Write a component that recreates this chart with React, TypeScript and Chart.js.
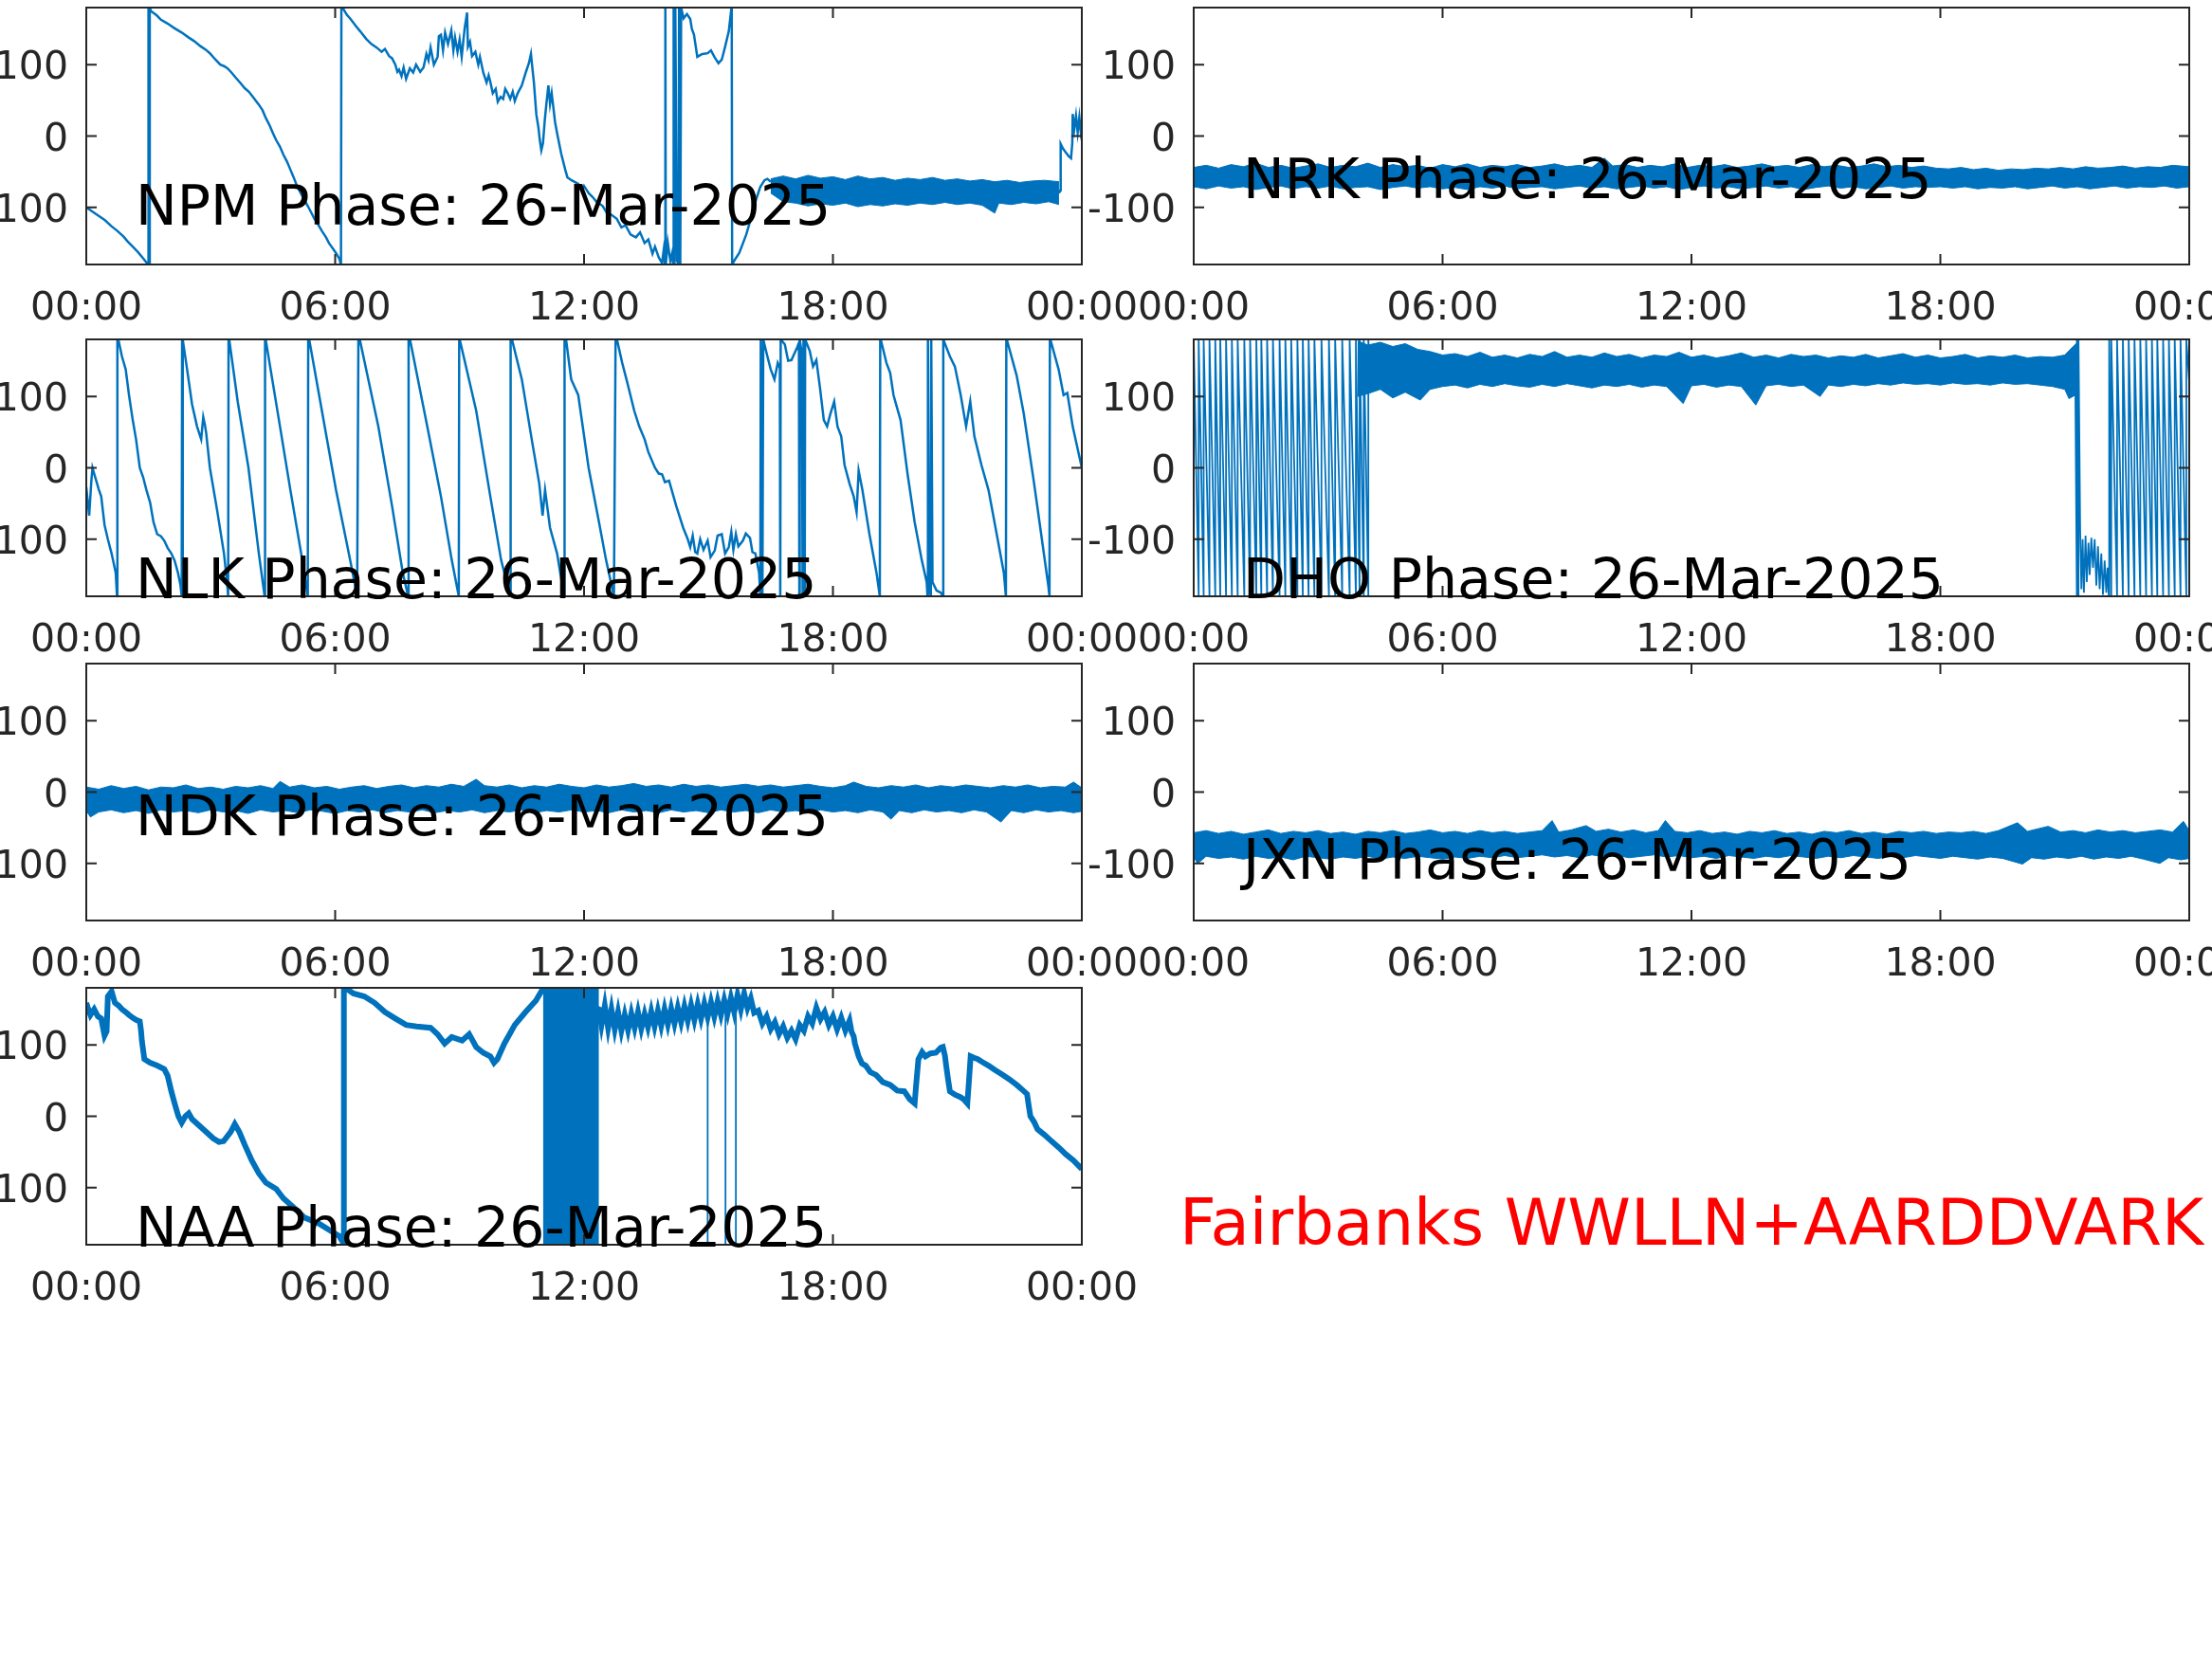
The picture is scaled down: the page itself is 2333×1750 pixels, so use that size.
import React, { useEffect, useRef } from "react";
import { Chart, registerables } from "chart.js";

Chart.register(...registerables);

type Pt = [number, number | null];

// ---------- axes / text ----------
const HOUR_TICKS = [0, 6, 12, 18, 24];
const PHASE_TICKS = [-100, 0, 100];
const HOUR_MIN = 0;
const HOUR_MAX = 24;
const PHASE_MIN = -180;
const PHASE_MAX = 180;
const DATE_TEXT = "26-Mar-2025";
const FOOTER_TEXT = "Fairbanks WWLLN+AARDDVARK";
const STATIONS = ["NPM", "NRK", "NLK", "DHO", "NDK", "JXN", "NAA"];
const LABEL_PHASE = [-124, -87, -183, -183, -61, -122, -182];
const LABEL_HOUR = 1.19;

// ---------- NPM ----------
const NPM_TRACE_A: Pt[] = [[0,-100],[0.15,-106],[0.3,-112],[0.45,-118],[0.6,-126],[0.75,-133],[0.9,-141],[1.0,-148],[1.12,-155],[1.25,-163],[1.38,-172],[1.49,-180],[1.5,180],[1.51,-180],[1.53,180],[1.56,175],[1.7,169],[1.8,163],[1.95,158],[2.13,151],[2.3,145],[2.47,138],[2.6,133],[2.75,126],[2.88,121],[2.98,116],[3.1,108],[3.23,100],[3.32,98],[3.4,95],[3.5,89],[3.6,82],[3.72,74],[3.82,67],[3.92,62],[4.0,56],[4.16,44],[4.25,36],[4.33,25],[4.42,15],[4.5,4],[4.58,-6],[4.67,-15],[4.75,-26],[4.84,-36],[4.92,-47],[5.0,-58],[5.08,-70],[5.17,-80],[5.25,-89],[5.34,-98],[5.42,-107],[5.5,-116],[5.6,-125],[5.68,-133],[5.78,-142],[5.85,-150],[5.95,-158],[6.02,-164],[6.1,-172],[6.14,-180],[6.15,180],[6.2,178],[6.28,170],[6.37,164],[6.5,154],[6.6,147],[6.75,136],[6.87,129],[7.0,124],[7.12,118],[7.2,122],[7.3,112],[7.37,109],[7.45,100],[7.5,90],[7.54,93],[7.6,84],[7.65,96],[7.71,80],[7.8,95],[7.88,89],[7.95,100],[8.05,90],[8.13,96],[8.2,115],[8.25,106],[8.3,124],[8.38,100],[8.47,111],[8.5,140],[8.55,142],[8.6,120],[8.65,145],[8.72,129],[8.8,148],[8.85,120],[8.89,138],[8.95,118],[9.0,135],[9.05,111],[9.12,150],[9.18,173],[9.2,125],[9.25,132],[9.3,112],[9.38,118],[9.45,100],[9.49,111],[9.57,89],[9.65,75],[9.7,85],[9.74,76],[9.8,60],[9.87,66],[9.92,48],[9.99,55],[10.05,52],[10.1,66],[10.16,60],[10.22,52],[10.28,62],[10.33,49],[10.4,60],[10.5,71],[10.6,90],[10.67,102],[10.72,115],[10.76,92],[10.79,76],[10.85,30],[10.9,12],[10.93,-4],[10.97,-20],[11.01,-10],[11.05,20],[11.09,44],[11.14,71],[11.18,45],[11.22,60],[11.26,40],[11.3,20],[11.35,4],[11.45,-25],[11.55,-48],[11.6,-58],[11.7,-62],[11.86,-67],[11.95,-78],[12.0,-70],[12.11,-80],[12.2,-85],[12.3,-92],[12.45,-98],[12.55,-108],[12.65,-110],[12.79,-116],[12.9,-128],[13.0,-125],[13.12,-138],[13.25,-142],[13.35,-135],[13.46,-150],[13.55,-145],[13.65,-165],[13.71,-155],[13.8,-170],[13.88,-178],[13.92,-160],[13.95,-180],[13.96,180],[13.97,-180],[14.02,-150],[14.08,-175],[14.12,-165],[14.15,-180],[14.16,180],[14.18,-180],[14.2,180],[14.24,-175],[14.28,-180],[14.29,180],[14.32,-180],[14.34,180],[14.4,165],[14.48,171],[14.56,164],[14.6,150],[14.65,142],[14.73,111],[14.85,115],[14.98,116],[15.06,120],[15.15,110],[15.24,102],[15.32,107],[15.4,125],[15.49,147],[15.55,178],[15.56,180],[15.57,-180],[15.65,-172],[15.74,-164],[15.82,-152],[15.91,-138],[16.0,-120],[16.08,-102],[16.17,-85],[16.25,-71],[16.35,-62],[16.42,-60],[16.5,-64]];
const NPM_TRACE_B: Pt[] = [[23.45,-80],[23.48,-76],[23.49,-11],[23.55,-18],[23.6,-22],[23.68,-28],[23.74,-31],[23.77,-10],[23.78,31],[23.82,10],[23.86,28],[23.9,5],[23.94,26],[23.97,8],[24,22]];
const NPM_BAND_UP: Pt[] = [[16.5,-60],[16.8,-56],[17.1,-60],[17.4,-55],[17.7,-59],[18.0,-57],[18.3,-61],[18.6,-56],[18.9,-60],[19.2,-58],[19.5,-62],[19.8,-59],[20.1,-61],[20.4,-58],[20.7,-62],[21.0,-60],[21.3,-63],[21.6,-61],[21.9,-64],[22.2,-62],[22.5,-65],[22.8,-63],[23.1,-62],[23.45,-64]];
const NPM_BAND_LO: Pt[] = [[16.5,-80],[16.8,-92],[17.1,-94],[17.4,-98],[17.7,-95],[18.0,-97],[18.3,-94],[18.6,-99],[18.9,-96],[19.2,-98],[19.5,-95],[19.8,-97],[20.1,-94],[20.4,-96],[20.7,-93],[21.0,-96],[21.3,-94],[21.6,-97],[21.9,-108],[22.0,-94],[22.3,-96],[22.6,-93],[22.9,-95],[23.2,-92],[23.45,-96]];

// ---------- NRK ----------
const NRK_BAND_UP: Pt[] = [[0,-44],[0.3,-41],[0.6,-45],[0.9,-40],[1.2,-43],[1.5,-38],[1.8,-44],[2.1,-41],[2.4,-45],[2.7,-42],[3.0,-39],[3.3,-44],[3.6,-41],[3.9,-43],[4.2,-38],[4.5,-44],[4.8,-40],[5.1,-43],[5.4,-41],[5.7,-45],[6.0,-40],[6.3,-43],[6.6,-39],[6.9,-44],[7.2,-41],[7.5,-43],[7.8,-40],[8.1,-44],[8.4,-42],[8.7,-39],[9.0,-43],[9.3,-41],[9.6,-44],[9.9,-31],[10.1,-42],[10.4,-40],[10.7,-44],[11.0,-41],[11.3,-43],[11.6,-39],[11.9,-44],[12.2,-41],[12.5,-43],[12.8,-40],[13.1,-44],[13.4,-42],[13.7,-39],[14.0,-43],[14.3,-41],[14.6,-44],[14.9,-40],[15.2,-43],[15.5,-41],[15.8,-44],[16.1,-42],[16.4,-39],[16.7,-43],[17.0,-41],[17.3,-44],[17.6,-42],[17.9,-45],[18.2,-46],[18.5,-44],[18.8,-47],[19.1,-45],[19.4,-48],[19.7,-46],[20.0,-47],[20.3,-45],[20.6,-46],[20.9,-44],[21.2,-46],[21.5,-43],[21.8,-45],[22.1,-44],[22.4,-42],[22.7,-45],[23.0,-43],[23.3,-44],[23.6,-41],[24,-43]];
const NRK_BAND_LO: Pt[] = [[0,-71],[0.3,-74],[0.6,-70],[0.9,-73],[1.2,-71],[1.5,-75],[1.8,-72],[2.1,-70],[2.4,-74],[2.7,-71],[3.0,-73],[3.3,-70],[3.6,-74],[3.9,-72],[4.2,-71],[4.5,-75],[4.8,-72],[5.1,-70],[5.4,-73],[5.7,-71],[6.0,-74],[6.3,-72],[6.6,-75],[6.9,-71],[7.2,-73],[7.5,-70],[7.8,-74],[8.1,-72],[8.4,-71],[8.7,-74],[9.0,-72],[9.3,-70],[9.6,-73],[9.9,-71],[10.2,-74],[10.5,-72],[10.8,-70],[11.1,-73],[11.4,-71],[11.7,-75],[12.0,-72],[12.3,-70],[12.6,-73],[12.9,-71],[13.2,-74],[13.5,-72],[13.8,-70],[14.1,-73],[14.4,-71],[14.7,-75],[15.0,-72],[15.3,-70],[15.6,-73],[15.9,-71],[16.2,-74],[16.5,-72],[16.8,-70],[17.1,-73],[17.4,-71],[17.7,-72],[18.0,-71],[18.3,-73],[18.6,-71],[18.9,-74],[19.2,-72],[19.5,-73],[19.8,-71],[20.1,-74],[20.4,-72],[20.7,-70],[21.0,-73],[21.3,-71],[21.6,-74],[21.9,-72],[22.2,-70],[22.5,-73],[22.8,-71],[23.1,-72],[23.4,-70],[23.7,-73],[24,-71]];

// ---------- NLK ----------
const NLK_TRACE: Pt[] = [[0,-27],[0.07,-67],[0.12,-20],[0.15,0],[0.2,-10],[0.24,-18],[0.3,-30],[0.36,-40],[0.44,-80],[0.52,-100],[0.61,-120],[0.71,-147],[0.74,-180],[0.75,180],[0.78,178],[0.86,156],[0.95,138],[1.03,102],[1.12,67],[1.2,40],[1.29,0],[1.37,-13],[1.45,-31],[1.54,-49],[1.62,-76],[1.71,-93],[1.8,-96],[1.88,-102],[1.96,-112],[2.05,-120],[2.13,-130],[2.21,-147],[2.27,-164],[2.3,-180],[2.31,180],[2.32,-180],[2.33,180],[2.43,138],[2.55,89],[2.67,58],[2.77,40],[2.82,71],[2.86,60],[2.89,49],[2.98,0],[3.15,-58],[3.32,-120],[3.4,-164],[3.42,-180],[3.43,180],[3.45,178],[3.65,93],[3.91,0],[4.16,-120],[4.3,-180],[4.31,180],[4.33,178],[4.67,58],[4.92,-31],[5.18,-120],[5.34,-180],[5.35,180],[5.38,178],[5.68,80],[6.02,-31],[6.36,-129],[6.53,-180],[6.56,180],[6.6,178],[7.04,58],[7.37,-53],[7.63,-147],[7.76,-180],[7.77,180],[7.81,178],[8.22,58],[8.55,-40],[8.81,-129],[8.98,-180],[8.99,180],[9.01,178],[9.4,80],[9.74,-40],[10.0,-129],[10.22,-180],[10.23,180],[10.27,178],[10.5,124],[10.75,36],[10.92,-22],[11.0,-67],[11.06,-31],[11.18,-84],[11.35,-120],[11.52,-180],[11.53,180],[11.57,178],[11.69,124],[11.86,102],[12.11,0],[12.36,-76],[12.53,-129],[12.72,-180],[12.76,180],[12.8,178],[12.92,147],[13.04,120],[13.21,80],[13.33,58],[13.46,40],[13.55,22],[13.71,0],[13.8,-8],[13.88,-9],[13.95,-20],[14.05,-18],[14.22,-53],[14.39,-84],[14.5,-100],[14.56,-111],[14.62,-95],[14.68,-118],[14.73,-120],[14.8,-100],[14.88,-115],[14.98,-102],[15.05,-125],[15.15,-116],[15.22,-95],[15.32,-93],[15.4,-120],[15.49,-111],[15.55,-90],[15.6,-115],[15.66,-93],[15.72,-110],[15.83,-102],[15.9,-92],[16.0,-98],[16.06,-118],[16.13,-120],[16.22,-147],[16.25,-180],[16.26,180],[16.3,-180],[16.32,180],[16.42,156],[16.5,138],[16.59,124],[16.67,147],[16.72,140],[16.73,-180],[16.74,180],[16.84,173],[16.92,150],[17.0,151],[17.07,160],[17.14,169],[17.18,175],[17.19,-180],[17.2,180],[17.25,160],[17.27,-180],[17.29,180],[17.32,-180],[17.33,180],[17.44,164],[17.52,142],[17.6,151],[17.69,111],[17.78,67],[17.86,58],[17.94,76],[18.03,93],[18.11,58],[18.2,44],[18.28,4],[18.4,-22],[18.5,-40],[18.57,-62],[18.62,-4],[18.71,-31],[18.88,-93],[19.05,-147],[19.13,-180],[19.14,180],[19.16,178],[19.29,147],[19.38,133],[19.46,102],[19.63,67],[19.8,-9],[19.97,-76],[20.14,-129],[20.26,-160],[20.28,-180],[20.29,180],[20.32,-165],[20.36,-180],[20.37,180],[20.4,-160],[20.5,-172],[20.6,-175],[20.65,-180],[20.66,180],[20.82,156],[20.94,142],[21.08,102],[21.21,58],[21.31,93],[21.41,44],[21.58,4],[21.75,-31],[21.92,-84],[22.12,-147],[22.17,-180],[22.18,180],[22.2,178],[22.43,129],[22.6,76],[22.85,-22],[23.02,-93],[23.19,-164],[23.22,-180],[23.23,180],[23.25,178],[23.44,138],[23.56,102],[23.65,105],[23.78,58],[24,0]];

// ---------- DHO ----------
const DHO_WRAPS_EARLY = [0.0,0.12,0.24,0.38,0.52,0.64,0.78,0.92,1.06,1.22,1.36,1.51,1.63,1.77,1.91,2.07,2.21,2.35,2.5,2.63,2.77,2.91,3.08,3.26,3.41,3.58,3.76,3.91,4.0,4.1,4.21];
const DHO_WRAPS_MID = [21.29, 21.33];
const DHO_WRAPS_LATE = [22.07,22.12,22.26,22.4,22.54,22.68,22.82,22.96,23.1,23.23,23.37,23.51,23.65,23.79,23.93];
const DHO_BOTTOM: Pt[] = [[21.37,-85],[21.4,-170],[21.43,-100],[21.46,-175],[21.5,-95],[21.53,-160],[21.57,-105],[21.6,-150],[21.64,-98],[21.68,-140],[21.72,-100],[21.76,-165],[21.8,-110],[21.84,-170],[21.88,-120],[21.92,-178],[21.96,-130],[22.0,-175],[22.03,-140],[22.06,-180]];
const DHO_BAND_UP: Pt[] = [[3.95,178],[4.2,172],[4.5,176],[4.8,170],[5.1,174],[5.4,166],[5.7,163],[6.0,158],[6.3,160],[6.6,156],[6.9,162],[7.2,155],[7.5,158],[7.8,154],[8.1,159],[8.4,156],[8.7,163],[9.0,155],[9.3,158],[9.6,155],[9.9,161],[10.2,156],[10.5,159],[10.8,154],[11.1,158],[11.4,156],[11.7,162],[12.0,155],[12.3,158],[12.6,154],[12.9,157],[13.2,161],[13.5,155],[13.8,158],[14.1,154],[14.4,159],[14.7,156],[15.0,158],[15.3,154],[15.6,157],[15.9,155],[16.2,159],[16.5,154],[16.8,157],[17.1,160],[17.4,155],[17.7,158],[18.0,154],[18.3,156],[18.6,159],[18.9,154],[19.2,157],[19.5,155],[19.8,158],[20.1,154],[20.4,156],[20.7,155],[21.0,158],[21.2,170],[21.35,178]];
const DHO_BAND_LO: Pt[] = [[3.95,100],[4.2,104],[4.5,110],[4.8,98],[5.1,106],[5.46,95],[5.7,110],[6.0,114],[6.3,116],[6.6,112],[6.9,117],[7.2,114],[7.5,118],[7.8,115],[8.1,113],[8.4,117],[8.7,114],[9.0,118],[9.3,115],[9.6,112],[9.9,116],[10.2,114],[10.5,117],[10.8,113],[11.1,116],[11.4,114],[11.8,90],[12.0,115],[12.3,117],[12.6,113],[12.9,116],[13.2,114],[13.55,88],[13.8,115],[14.1,117],[14.4,114],[14.7,116],[15.1,100],[15.3,116],[15.6,114],[15.9,117],[16.2,115],[16.5,118],[16.8,116],[17.1,119],[17.4,117],[17.7,118],[18.0,116],[18.3,119],[18.6,117],[18.9,118],[19.2,116],[19.5,119],[19.8,117],[20.1,118],[20.4,116],[20.7,114],[21.0,110],[21.1,97],[21.35,105]];

// ---------- NDK ----------
const NDK_BAND_UP: Pt[] = [[0,7],[0.3,4],[0.6,9],[0.9,5],[1.2,8],[1.5,3],[1.8,7],[2.1,6],[2.4,10],[2.7,5],[3.0,7],[3.3,4],[3.6,8],[3.9,6],[4.2,9],[4.5,5],[4.67,15],[4.9,7],[5.2,10],[5.5,6],[5.8,8],[6.1,4],[6.4,7],[6.7,9],[7.0,5],[7.3,8],[7.6,10],[7.9,6],[8.2,9],[8.5,7],[8.8,11],[9.1,8],[9.4,18],[9.6,9],[9.9,7],[10.2,10],[10.5,6],[10.8,9],[11.1,7],[11.4,11],[11.7,8],[12.0,6],[12.3,10],[12.6,7],[12.9,9],[13.2,12],[13.5,8],[13.8,10],[14.1,7],[14.4,11],[14.7,8],[15.0,10],[15.3,7],[15.6,9],[15.9,11],[16.2,8],[16.5,10],[16.8,7],[17.1,9],[17.4,11],[17.7,8],[18.0,6],[18.3,9],[18.5,14],[18.8,8],[19.1,6],[19.4,9],[19.7,7],[20.0,10],[20.3,6],[20.6,9],[20.9,7],[21.2,10],[21.5,8],[21.8,6],[22.1,9],[22.4,7],[22.7,10],[23.0,6],[23.3,8],[23.6,7],[23.8,14],[24,6]];
const NDK_BAND_LO: Pt[] = [[0,-26],[0.1,-35],[0.3,-28],[0.6,-25],[0.9,-29],[1.2,-26],[1.5,-30],[1.8,-25],[2.1,-28],[2.4,-26],[2.7,-29],[3.0,-25],[3.3,-28],[3.6,-26],[3.9,-30],[4.2,-25],[4.5,-28],[4.8,-26],[5.1,-29],[5.4,-25],[5.7,-27],[6.0,-30],[6.3,-26],[6.6,-28],[6.9,-25],[7.2,-29],[7.5,-26],[7.8,-28],[8.1,-25],[8.4,-29],[8.7,-26],[9.0,-28],[9.3,-25],[9.6,-29],[9.9,-26],[10.2,-28],[10.5,-25],[10.8,-29],[11.1,-26],[11.4,-28],[11.7,-25],[12.0,-28],[12.3,-26],[12.6,-29],[12.9,-25],[13.2,-28],[13.5,-26],[13.8,-29],[14.1,-25],[14.4,-28],[14.7,-26],[15.0,-29],[15.3,-25],[15.6,-28],[15.9,-26],[16.2,-29],[16.5,-25],[16.8,-28],[17.1,-26],[17.4,-29],[17.7,-25],[18.0,-28],[18.3,-26],[18.6,-29],[18.9,-25],[19.2,-28],[19.4,-38],[19.6,-26],[19.9,-29],[20.2,-25],[20.5,-28],[20.8,-26],[21.1,-29],[21.4,-25],[21.7,-28],[22.05,-42],[22.3,-26],[22.6,-29],[22.9,-25],[23.2,-28],[23.5,-26],[23.8,-29],[24,-27]];

// ---------- JXN ----------
const JXN_BAND_UP: Pt[] = [[0,-57],[0.3,-54],[0.6,-58],[0.9,-55],[1.2,-59],[1.5,-56],[1.8,-53],[2.1,-58],[2.4,-55],[2.7,-57],[3.0,-54],[3.3,-58],[3.6,-56],[3.9,-59],[4.2,-55],[4.5,-57],[4.8,-54],[5.1,-58],[5.4,-56],[5.7,-53],[6.0,-57],[6.3,-55],[6.6,-58],[6.9,-54],[7.2,-57],[7.5,-55],[7.8,-58],[8.1,-56],[8.4,-54],[8.64,-40],[8.8,-56],[9.1,-53],[9.46,-47],[9.7,-55],[10.0,-52],[10.3,-56],[10.6,-53],[10.9,-57],[11.2,-54],[11.37,-40],[11.6,-55],[11.9,-57],[12.2,-54],[12.5,-58],[12.8,-56],[13.1,-59],[13.4,-55],[13.7,-57],[14.0,-54],[14.3,-58],[14.6,-56],[14.9,-59],[15.2,-55],[15.5,-57],[15.8,-54],[16.1,-58],[16.4,-56],[16.7,-59],[17.0,-55],[17.3,-57],[17.6,-55],[17.9,-58],[18.2,-56],[18.5,-57],[18.8,-55],[19.1,-58],[19.4,-54],[19.86,-43],[20.1,-55],[20.6,-48],[20.9,-56],[21.2,-54],[21.5,-57],[21.8,-53],[22.1,-56],[22.4,-54],[22.7,-57],[23.0,-55],[23.3,-53],[23.6,-56],[23.86,-41],[24,-54]];
const JXN_BAND_LO: Pt[] = [[0,-92],[0.1,-100],[0.3,-90],[0.6,-93],[0.9,-91],[1.2,-94],[1.5,-90],[1.8,-93],[2.1,-91],[2.4,-95],[2.7,-90],[3.0,-92],[3.3,-94],[3.6,-91],[3.9,-93],[4.2,-90],[4.5,-94],[4.8,-91],[5.1,-93],[5.4,-90],[5.7,-92],[6.0,-94],[6.3,-91],[6.6,-93],[6.9,-90],[7.2,-92],[7.5,-89],[7.8,-92],[8.1,-90],[8.4,-88],[8.7,-91],[9.0,-89],[9.3,-92],[9.6,-88],[9.9,-91],[10.2,-89],[10.5,-92],[10.8,-90],[11.1,-88],[11.4,-91],[11.7,-89],[12.0,-92],[12.3,-90],[12.6,-93],[12.9,-89],[13.2,-91],[13.5,-93],[13.8,-90],[14.1,-92],[14.4,-89],[14.7,-91],[15.0,-93],[15.3,-90],[15.6,-92],[15.9,-89],[16.2,-91],[16.5,-93],[16.8,-90],[17.1,-92],[17.4,-89],[17.7,-91],[18.0,-93],[18.3,-90],[18.6,-92],[18.9,-94],[19.2,-91],[19.5,-93],[19.98,-101],[20.2,-92],[20.5,-94],[20.8,-91],[21.1,-93],[21.4,-90],[21.7,-94],[22.0,-91],[22.3,-93],[22.6,-90],[22.9,-94],[23.29,-100],[23.5,-92],[23.8,-95],[24,-93]];

// ---------- NAA ----------
const NAA_TRACE: Pt[] = [[0,159],[0.05,150],[0.1,142],[0.19,150],[0.28,140],[0.36,137],[0.44,113],[0.49,119],[0.52,168],[0.61,175],[0.69,159],[0.78,155],[0.86,150],[0.95,146],[1.03,142],[1.12,138],[1.2,135],[1.29,133],[1.32,120],[1.34,106],[1.4,80],[1.54,75],[1.71,71],[1.88,66],[1.96,57],[2.05,35],[2.13,18],[2.22,0],[2.3,-9],[2.39,0],[2.47,4],[2.55,-4],[2.72,-13],[2.89,-22],[3.06,-31],[3.2,-36],[3.31,-35],[3.48,-22],[3.58,-11],[3.69,-22],[3.82,-40],[3.99,-62],[4.16,-80],[4.33,-93],[4.58,-102],[4.75,-115],[5.0,-128],[5.26,-142],[5.6,-150],[5.85,-159],[6.1,-168],[6.19,-177],[6.2,-180],[6.21,180],[6.27,179],[6.44,172],[6.7,168],[6.95,159],[7.2,146],[7.45,137],[7.71,128],[7.96,126],[8.3,124],[8.47,115],[8.64,102],[8.81,111],[9.06,106],[9.23,115],[9.4,97],[9.57,89],[9.74,84],[9.83,75],[9.91,80],[10.08,102],[10.33,128],[10.59,146],[10.84,162],[11.01,179],[12.36,150],[12.42,128],[12.5,155],[12.58,124],[12.66,150],[12.74,122],[12.82,146],[12.9,120],[12.98,142],[13.06,121],[13.14,144],[13.22,124],[13.3,146],[13.38,123],[13.46,143],[13.54,125],[13.62,147],[13.7,126],[13.78,148],[13.86,127],[13.94,150],[14.02,129],[14.1,151],[14.18,130],[14.26,152],[14.34,132],[14.42,154],[14.5,134],[14.58,156],[14.66,135],[14.74,157],[14.82,137],[14.9,158],[14.98,139],[15.06,160],[15.14,140],[15.22,161],[15.3,142],[15.38,163],[15.46,144],[15.54,166],[15.62,146],[15.7,170],[15.78,150],[15.86,172],[15.94,152],[16.02,165],[16.1,145],[16.2,148],[16.3,130],[16.4,140],[16.5,122],[16.6,132],[16.7,115],[16.8,126],[16.9,110],[17.0,120],[17.1,108],[17.2,128],[17.3,120],[17.4,140],[17.5,130],[17.6,152],[17.7,136],[17.8,146],[17.9,128],[18.0,140],[18.1,122],[18.2,138],[18.3,120],[18.4,134],[18.45,118],[18.5,112],[18.53,102],[18.62,84],[18.7,74],[18.79,71],[18.9,62],[19.04,58],[19.2,48],[19.38,44],[19.55,36],[19.72,35],[19.85,24],[19.97,18],[20.0,40],[20.06,80],[20.15,90],[20.23,84],[20.35,88],[20.48,89],[20.6,96],[20.65,97],[20.7,85],[20.73,71],[20.78,50],[20.82,35],[20.95,30],[21.07,27],[21.15,24],[21.24,18],[21.28,50],[21.32,84],[21.4,82],[21.49,80],[21.6,76],[21.75,71],[21.9,65],[22.09,58],[22.25,52],[22.43,44],[22.55,38],[22.68,31],[22.72,15],[22.76,0],[22.85,-8],[22.93,-18],[23.1,-26],[23.27,-35],[23.45,-44],[23.61,-53],[23.8,-62],[23.95,-71],[24,-74]];
const NAA_SPIKES: Pt[] = [[14.98,142],[14.98,-180],[14.99,null],[15.41,150],[15.41,-180],[15.42,null],[15.66,155],[15.66,-180]];
const NAA_BLOCK_UP: Pt[] = [[11.01,180],[12.36,180]];
const NAA_BLOCK_LO: Pt[] = [[11.01,-180],[12.36,-180]];

// ---------- styling / layout ----------
const BLUE = "#0072BD";
const AXIS_COLOR = "#262626";
const FONT = "'DejaVu Sans', sans-serif";
const TICK_FONT_PX = 41;
const LABEL_FONT_PX = 58.5;
const COL_X = [91, 1259];
const ROW_Y = [8, 358, 700, 1042];
const PLOT_W = 1050;
const PLOT_H = 271;
const AXIS_W = 130;
const AXIS_H = 80;
const PAD_T = 12;
const PAD_R = 80;
const TICK_LEN = 11;
const YLABEL_GAP = 19;
const YLABEL_DROP = 15;
const XLABEL_BASE = 58;

const wrapsToPoints = (times: number[]): Pt[] =>
  times.flatMap((t) => [[t, PHASE_MIN], [t, PHASE_MAX]] as Pt[]);

type LineDef = { data: Pt[]; width: number };
type BandDef = { upper: Pt[]; lower: Pt[] };
type PanelDef = { station: string; col: number; row: number; lines: LineDef[]; bands: BandDef[]; labelPhase: number };

const PANELS: PanelDef[] = [
  { station: STATIONS[0], col: 0, row: 0, labelPhase: LABEL_PHASE[0],
    bands: [{ upper: NPM_BAND_UP, lower: NPM_BAND_LO }],
    lines: [{ data: NPM_TRACE_A, width: 2.5 }, { data: NPM_TRACE_B, width: 2.5 }] },
  { station: STATIONS[1], col: 1, row: 0, labelPhase: LABEL_PHASE[1],
    bands: [{ upper: NRK_BAND_UP, lower: NRK_BAND_LO }], lines: [] },
  { station: STATIONS[2], col: 0, row: 1, labelPhase: LABEL_PHASE[2],
    bands: [], lines: [{ data: NLK_TRACE, width: 2.5 }] },
  { station: STATIONS[3], col: 1, row: 1, labelPhase: LABEL_PHASE[3],
    bands: [{ upper: DHO_BAND_UP, lower: DHO_BAND_LO }],
    lines: [
      { data: [...wrapsToPoints(DHO_WRAPS_EARLY), [4.25, 140]], width: 1.8 },
      { data: [[21.25, 150], ...wrapsToPoints(DHO_WRAPS_MID), ...DHO_BOTTOM, ...wrapsToPoints(DHO_WRAPS_LATE), [24, 120]], width: 1.8 },
    ] },
  { station: STATIONS[4], col: 0, row: 2, labelPhase: LABEL_PHASE[4],
    bands: [{ upper: NDK_BAND_UP, lower: NDK_BAND_LO }], lines: [] },
  { station: STATIONS[5], col: 1, row: 2, labelPhase: LABEL_PHASE[5],
    bands: [{ upper: JXN_BAND_UP, lower: JXN_BAND_LO }], lines: [] },
  { station: STATIONS[6], col: 0, row: 3, labelPhase: LABEL_PHASE[6],
    bands: [{ upper: NAA_BLOCK_UP, lower: NAA_BLOCK_LO }],
    lines: [{ data: NAA_TRACE, width: 6 }, { data: NAA_SPIKES, width: 1.8 }] },
];

const toXY = (arr: Pt[]) => arr.map(([x, y]) => ({ x, y }));
const hourLabel = (v: number) => `${String(v % 24).padStart(2, "0")}:00`;

const framePlugin = {
  id: "matlabFrame",
  afterDatasetsDraw(chart: any, _args: any, opts: any) {
    const { ctx, chartArea: a, scales } = chart;
    ctx.save();
    ctx.strokeStyle = AXIS_COLOR;
    ctx.lineWidth = 2;
    ctx.strokeRect(a.left, a.top, a.right - a.left, a.bottom - a.top);
    ctx.beginPath();
    for (const v of HOUR_TICKS) {
      const x = scales.x.getPixelForValue(v);
      ctx.moveTo(x, a.bottom); ctx.lineTo(x, a.bottom - TICK_LEN);
      ctx.moveTo(x, a.top); ctx.lineTo(x, a.top + TICK_LEN);
    }
    for (const v of PHASE_TICKS) {
      const y = scales.y.getPixelForValue(v);
      ctx.moveTo(a.left, y); ctx.lineTo(a.left + TICK_LEN, y);
      ctx.moveTo(a.right, y); ctx.lineTo(a.right - TICK_LEN, y);
    }
    ctx.stroke();
    ctx.fillStyle = AXIS_COLOR;
    ctx.font = `${TICK_FONT_PX}px ${FONT}`;
    ctx.textBaseline = "alphabetic";
    ctx.textAlign = "right";
    for (const v of PHASE_TICKS) {
      ctx.fillText(String(v), a.left - YLABEL_GAP, scales.y.getPixelForValue(v) + YLABEL_DROP);
    }
    ctx.textAlign = "center";
    for (const v of HOUR_TICKS) {
      ctx.fillText(hourLabel(v), scales.x.getPixelForValue(v), a.bottom + XLABEL_BASE);
    }
    ctx.fillStyle = "#000000";
    ctx.font = `${LABEL_FONT_PX}px ${FONT}`;
    ctx.textAlign = "left";
    ctx.fillText(opts.text, scales.x.getPixelForValue(opts.x), scales.y.getPixelForValue(opts.y));
    ctx.restore();
  },
};

function PhasePanel({ panel }: { panel: PanelDef }) {
  const ref = useRef<HTMLCanvasElement>(null);
  useEffect(() => {
    if (!ref.current) return;
    const datasets: any[] = [];
    panel.bands.forEach((b) => {
      datasets.push({ data: toXY(b.upper), borderColor: BLUE, borderWidth: 1, pointRadius: 0, fill: false, tension: 0 });
      datasets.push({ data: toXY(b.lower), borderColor: BLUE, borderWidth: 1, pointRadius: 0, fill: "-1", backgroundColor: BLUE, tension: 0 });
    });
    panel.lines.forEach((l) => {
      datasets.push({ data: toXY(l.data), borderColor: BLUE, borderWidth: l.width, pointRadius: 0, fill: false, spanGaps: false, tension: 0 });
    });
    const chart = new Chart(ref.current, {
      type: "line",
      data: { datasets },
      options: {
        animation: false,
        responsive: false,
        maintainAspectRatio: false,
        events: [],
        layout: { padding: { top: PAD_T, right: PAD_R, left: 0, bottom: 0 } },
        plugins: {
          legend: { display: false },
          tooltip: { enabled: false },
          matlabFrame: { text: `${panel.station} Phase: ${DATE_TEXT}`, x: LABEL_HOUR, y: panel.labelPhase },
        } as any,
        scales: {
          x: {
            type: "linear",
            min: HOUR_MIN,
            max: HOUR_MAX,
            afterBuildTicks: (s: any) => { s.ticks = HOUR_TICKS.map((v) => ({ value: v })); },
            afterFit: (s: any) => { s.height = AXIS_H; s.paddingLeft = 0; s.paddingRight = 0; },
            ticks: { display: false },
            grid: { display: false, drawTicks: false },
            border: { display: false },
          },
          y: {
            type: "linear",
            min: PHASE_MIN,
            max: PHASE_MAX,
            afterBuildTicks: (s: any) => { s.ticks = PHASE_TICKS.map((v) => ({ value: v })); },
            afterFit: (s: any) => { s.width = AXIS_W; s.paddingTop = 0; s.paddingBottom = 0; },
            ticks: { display: false },
            grid: { display: false, drawTicks: false },
            border: { display: false },
          },
        },
      } as any,
      plugins: [framePlugin as any],
    });
    return () => chart.destroy();
  }, [panel]);

  const left = COL_X[panel.col] - AXIS_W;
  const top = ROW_Y[panel.row] - PAD_T;
  const w = AXIS_W + PLOT_W + PAD_R;
  const h = PAD_T + PLOT_H + AXIS_H;
  return (
    <canvas
      ref={ref}
      width={w}
      height={h}
      style={{ position: "absolute", left, top, width: w, height: h }}
    />
  );
}

export default function App() {
  return (
    <div style={{ position: "absolute", left: 0, top: 0, width: 2333, height: 1750, overflow: "hidden", background: "#ffffff" }}>
      {PANELS.map((p) => (
        <PhasePanel key={p.station} panel={p} />
      ))}
      <div
        style={{
          position: "absolute",
          left: 1244,
          top: 1256,
          font: `67.4px ${FONT}`,
          lineHeight: "67px",
          color: "#FF0000",
          whiteSpace: "nowrap",
        }}
      >
        {FOOTER_TEXT}
      </div>
    </div>
  );
}
